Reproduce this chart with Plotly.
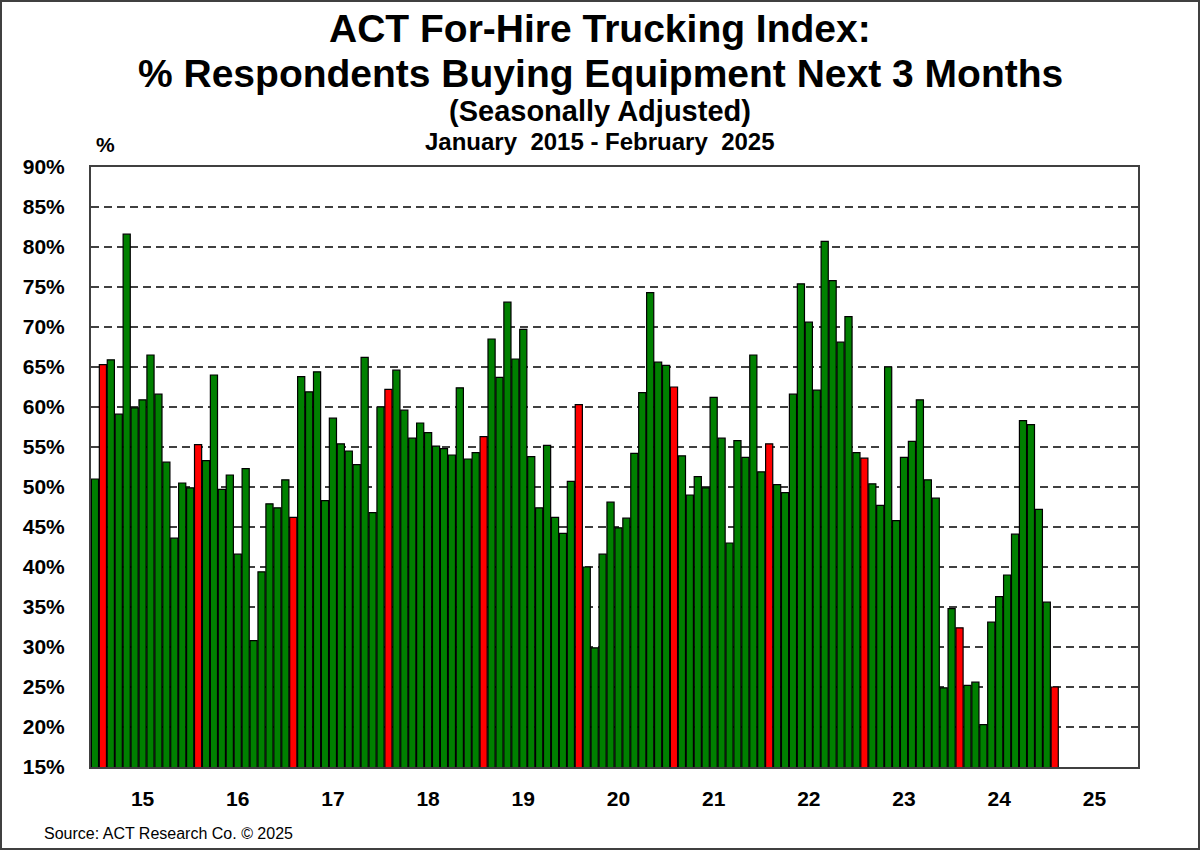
import pandas as pd
import plotly.graph_objects as go

# monthly survey readings, Jan 2015 - Feb 2025 (% respondents)
months = pd.date_range('2015-01-01', '2025-02-01', freq='MS')
v2015 = [51.0, 65.3, 65.9, 59.1, 81.6, 59.9, 60.9, 66.5, 61.6, 53.1, 43.6, 50.5]
v2016 = [49.9, 55.3, 53.3, 64.0, 49.7, 51.5, 41.6, 52.3, 30.8, 39.4, 47.9, 47.4]
v2017 = [50.9, 46.2, 63.8, 61.9, 64.4, 48.3, 58.6, 55.4, 54.5, 52.8, 66.2, 46.8]
v2018 = [60.0, 62.2, 64.6, 59.6, 56.1, 58.0, 56.8, 55.1, 54.8, 54.0, 62.4, 53.5]
v2019 = [54.3, 56.3, 68.5, 63.7, 73.1, 66.0, 69.7, 53.8, 47.4, 55.2, 46.2, 44.2]
v2020 = [50.7, 60.3, 40.0, 29.9, 41.6, 48.1, 44.9, 46.1, 54.2, 61.8, 74.3, 65.6]
v2021 = [65.2, 62.5, 53.9, 49.0, 51.3, 49.9, 61.2, 56.1, 43.0, 55.8, 53.7, 66.5]
v2022 = [51.9, 55.4, 50.3, 49.3, 61.6, 75.4, 70.6, 62.1, 80.7, 75.8, 68.1, 71.3]
v2023 = [54.3, 53.6, 50.4, 47.7, 65.0, 45.8, 53.7, 55.7, 60.9, 50.9, 48.6, 24.9]
v2024 = [34.8, 32.4, 25.2, 25.6, 20.3, 33.1, 36.3, 39.0, 44.1, 58.3, 57.8, 47.2]
v2025 = [35.6, 25.0]

year_ticks = ['15', '16', '17', '18', '19', '20', '21', '22', '23', '24', '25']

values = (v2015 + v2016 + v2017 + v2018 + v2019 + v2020 + v2021
          + v2022 + v2023 + v2024 + v2025)

W, H = 1200, 850
L, R, T, B = 91, 62, 167, 83

def py(y):
    # pixel y from top -> paper coordinate
    return (H - B - y) / (H - T - B)

def px(x):
    return (x - L) / (W - L - R)

# latest month (February) highlighted every year
colors = ['#ff0000' if m.month == 2 else '#008000' for m in months]

fig = go.Figure()
fig.add_trace(go.Bar(
    x=list(range(len(values))),
    y=values,
    marker=dict(color=colors, line=dict(color='black', width=1.2)),
    customdata=[m.strftime('%b %Y') for m in months],
    hovertemplate='%{customdata}: %{y:.1f}%<extra></extra>',
))

font = 'Liberation Sans, Arial, sans-serif'

fig.update_layout(
    width=W, height=H,
    margin=dict(l=L, r=R, t=T, b=B),
    paper_bgcolor='white', plot_bgcolor='white',
    showlegend=False, bargap=0.1,
    font=dict(family=font, color='black'),
    xaxis=dict(
        range=[-0.5, 131.5],
        tickvals=[6 + 12 * i for i in range(len(year_ticks))],
        ticktext=year_ticks,
        tickfont=dict(size=21, weight='bold'),
        ticks='', ticklabelstandoff=12,
        showgrid=False, zeroline=False,
        showline=True, mirror=True, linecolor='#404040', linewidth=2,
    ),
    yaxis=dict(
        range=[15, 90], dtick=5, ticksuffix='%',
        tickfont=dict(size=21, weight='bold'),
        ticks='', ticklabelstandoff=20,
        showgrid=True, gridcolor='#404040', gridwidth=1.5, griddash='8px,5px',
        zeroline=False,
        showline=True, mirror=True, linecolor='#404040', linewidth=2,
    ),
)

sp = '\u00a0 '
titles = [
    ('ACT For-Hire Trucking Index:', 28, 39),
    ('% Respondents Buying Equipment Next 3 Months', 74, 39),
    ('(Seasonally Adjusted)', 111, 29),
    ('January' + sp + '2015 - February' + sp + '2025', 142, 24),
]
for text, y, size in titles:
    fig.add_annotation(text=text, x=px(600), y=py(y), xref='paper', yref='paper',
                       showarrow=False, xanchor='center', yanchor='middle',
                       font=dict(size=size, weight='bold'))

fig.add_annotation(text='%', x=px(105), y=py(144), xref='paper', yref='paper',
                   showarrow=False, xanchor='center', yanchor='middle',
                   font=dict(size=21, weight='bold'))
fig.add_annotation(text='Source: ACT Research Co. \u00a9 2025', x=px(42), y=py(833),
                   xref='paper', yref='paper', showarrow=False,
                   xanchor='left', yanchor='middle',
                   font=dict(size=16))

# thin frame round the whole picture
fig.add_shape(type='rect', xref='paper', yref='paper',
              x0=px(1), x1=px(W - 1), y0=py(H - 1), y1=py(1),
              line=dict(color='#404040', width=2), layer='above')

fig.write_html('out.html', config={'displayModeBar': False},
               post_script="document.body.style.margin='0';"
                           "document.body.style.overflow='hidden';")
